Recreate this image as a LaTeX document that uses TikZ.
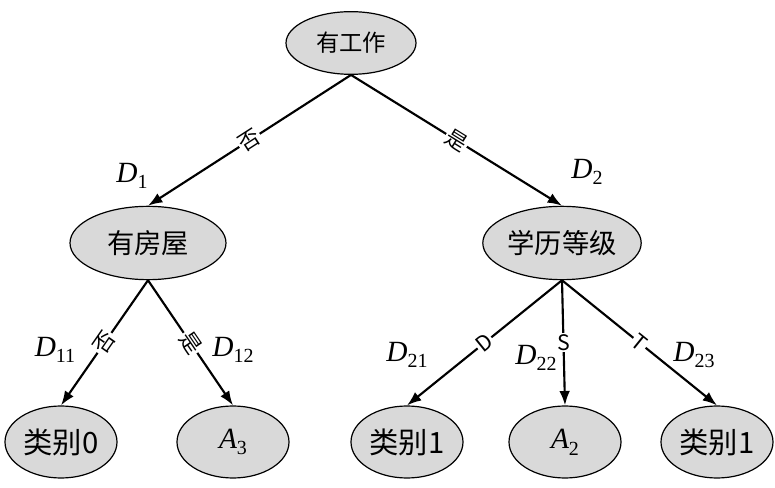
\documentclass[tikz,border=0pt]{standalone}
\usepackage{fontspec}
\setmainfont{Noto Sans CJK SC}
\newfontfamily\tnr{Liberation Serif}
\usepackage{tikz}
\usetikzlibrary{arrows.meta,positioning,shapes.geometric}
\definecolor{grisN}{HTML}{D9D9D9}
\newcommand{\dind}[2]{{\tnr\fontsize{22}{22}\selectfont\itshape #1}{\tnr\fontsize{15}{15}\selectfont\raisebox{-5pt}{#2}}}
\newcommand{\aind}[2]{{\tnr\fontsize{22}{22}\selectfont\itshape #1}{\tnr\fontsize{15}{15}\selectfont\raisebox{-5pt}{#2}}}
\tikzset{
  etat/.style={ellipse, draw=black, line width=0.9pt, fill=grisN, inner sep=1pt},
  racine/.style={etat, minimum width=97.5pt, minimum height=47pt, font=\fontsize{17.5}{17.5}\selectfont},
  interne/.style={etat, minimum width=117pt, minimum height=55pt, font=\fontsize{20.5}{20.5}\selectfont},
  feuille/.style={etat, minimum width=84pt, minimum height=54pt, font=\fontsize{22}{22}\selectfont},
  arr/.style={-{Latex[length=3.8mm,width=2.8mm]}, line width=1.6pt},
  etiq/.style={fill=white, inner sep=1pt, font=\fontsize{16}{16}\selectfont},
  dlab/.style={inner sep=0pt},
}
\begin{document}
\begin{tikzpicture}[on grid]
  \useasboundingbox (0,0) rectangle (581.25pt,-366pt);
  \node[racine] (root) at (263.25pt,-32.25pt) {有工作};
  \node[interne, below left=150pt and 152.25pt of root] (n1) {有房屋};
  \node[interne, below right=150pt and 158.25pt of root] (n2) {学历等级};
  \node[feuille, below left=149.25pt and 65.25pt of n1] (l1) {类别0};
  \node[feuille, below right=149.25pt and 63.75pt of n1] (l2) {\aind{A}{3}};
  \node[feuille, below left=149.25pt and 116.25pt of n2] (l3) {类别1};
  \node[feuille, below right=149.25pt and 2.25pt of n2] (l4) {\aind{A}{2}};
  \node[feuille, below right=149.25pt and 116.25pt of n2] (l5) {类别1};
  % branches
  \draw[arr] (root.south) -- node[etiq, sloped] {否} (n1.north);
  \draw[arr] (root.south) -- node[etiq, sloped] {是} (n2.north);
  \draw[arr] (n1.south) -- node[etiq, sloped] {否} (l1.north);
  \draw[arr] (n1.south) -- node[etiq, sloped] {是} (l2.north);
  \draw[arr] (n2.south) -- node[etiq, sloped] {D} (l3.north);
  \draw[arr] (n2.south) -- node[etiq] {S} (l4.north);
  \draw[arr] (n2.south) -- node[etiq, sloped] {T} (l5.north);
  % sous-ensembles
  \node[dlab, above left=50.25pt and 12pt of n1] (d1) {\dind{D}{1}};
  \node[dlab, above right=53.25pt and 18.75pt of n2] (d2) {\dind{D}{2}};
  \node[dlab, above left=69pt and 4.5pt of l1] (d11) {\dind{D}{11}};
  \node[dlab, above=69pt of l2] (d12) {\dind{D}{12}};
  \node[dlab, above=65.25pt of l3] (d21) {\dind{D}{21}};
  \node[dlab, above left=63pt and 21.75pt of l4] (d22) {\dind{D}{22}};
  \node[dlab, above left=65.25pt and 17.25pt of l5] (d23) {\dind{D}{23}};
\end{tikzpicture}
\end{document}
